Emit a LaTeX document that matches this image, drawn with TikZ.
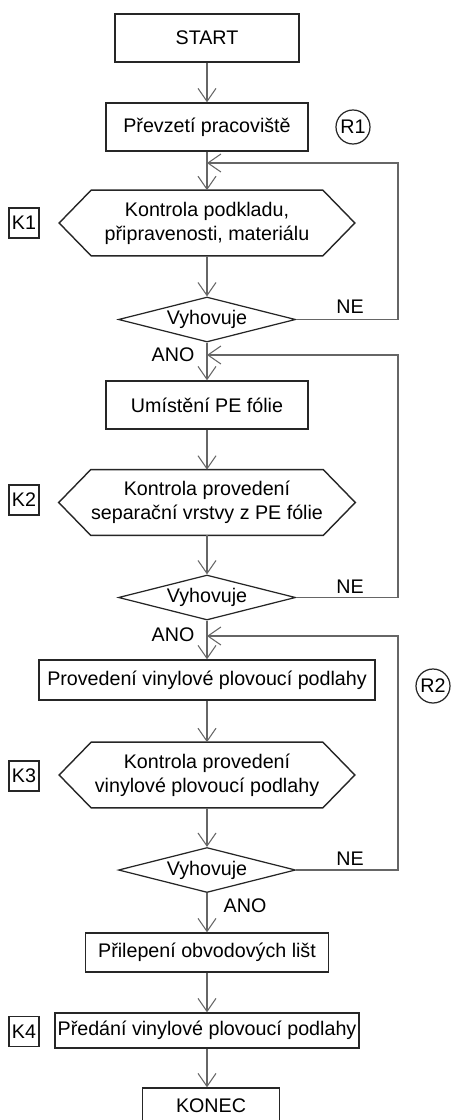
\documentclass[tikz,border=0pt]{standalone}
\usepackage{fontspec}
\setmainfont{Liberation Sans}
\usetikzlibrary{calc,arrows.meta,shapes.geometric}

\begin{document}
\begin{tikzpicture}[x=0.2mm, y=-0.2mm,
  every node/.style={font=\fontsize{11.2}{13.6}\selectfont, inner sep=0},
  box/.style={draw=black!85, line width=0.8pt, minimum height=0.96cm, align=center},
  hexa/.style={minimum width=4.62cm, minimum height=1.3cm, align=center},
  ask/.style={diamond, aspect=3.9, draw=black!85, line width=0.7pt, minimum width=3.54cm, minimum height=0.9cm},
  tag/.style={draw=black!85, line width=0.8pt, minimum size=0.6cm},
  ref/.style={circle, draw=black!85, line width=0.7pt, minimum size=0.68cm},
  line/.style={draw=black!60, line width=0.6pt, -{Straight Barb[length=2.6mm,width=3.6mm]}}]

  \clip (0,0) rectangle (453,1120);
  \fill[white] (0,0) rectangle (453,1120);

  \node[box, minimum width=3.68cm] at (207,38) (start) {START};
  \node[box, minimum width=4.04cm] at (207,127) (prevzeti) {Převzetí pracoviště};
  \node[ref] at (353,127) (r1) {R1};

  \node[hexa] at (207,223) (chk1) {Kontrola podkladu,\\připravenosti, materiálu};
  \node[tag] at (24,223) (k1) {K1};
  \node[ask] at (207,319.5) (ask1) {Vyhovuje};

  \node[box, minimum width=4.04cm] at (207,405) (umisteni) {Umístění PE fólie};
  \node[hexa] at (207,502.5) (chk2) {Kontrola provedení\\separační vrstvy z PE fólie};
  \node[tag] at (24,500) (k2) {K2};
  \node[ask] at (207,597.5) (ask2) {Vyhovuje};

  \node[box, minimum width=6.72cm, minimum height=0.8cm] at (207,680) (provedeni) {Provedení vinylové plovoucí podlahy};
  \node[ref] at (433,686) (r2) {R2};
  \node[hexa] at (207,775) (chk3) {Kontrola provedení\\vinylové plovoucí podlahy};
  \node[tag] at (24,776) (k3) {K3};
  \node[ask] at (207,870) (ask3) {Vyhovuje};

  \node[box, minimum width=4.86cm, minimum height=0.78cm] at (207,952.5) (prilepeni) {Přilepení obvodových lišt};
  \node[box, minimum width=6.08cm, minimum height=0.7cm] at (207,1030.5) (predani) {Předání vinylové plovoucí podlahy};
  \node[tag] at (24,1031.5) (k4) {K4};
  \node[box, minimum width=2.74cm, minimum height=0.7cm] at (211,1105.5) (konec) {KONEC};

  % hexagon outlines
  \foreach \h in {chk1,chk2,chk3}
    \draw[draw=black!85, line width=0.8pt] (\h.north west) -- (\h.north east) -- ($(\h.east)+(32,0)$)
      -- (\h.south east) -- (\h.south west) -- ($(\h.west)-(32,0)$) -- cycle;

  \coordinate (j1) at (207,163);
  \coordinate (c1) at (398,163);
  \coordinate (j2) at (207,355);
  \coordinate (c2) at (398,355);
  \coordinate (j3) at (207,636);
  \coordinate (c3) at (398,636);

  \draw[line] (start) -- (prevzeti);
  \draw[line] (prevzeti) -- (chk1);
  \draw[line] (chk1) -- (ask1);
  \draw[line] (ask1) -- (umisteni);
  \draw[line] (umisteni) -- (chk2);
  \draw[line] (chk2) -- (ask2);
  \draw[line] (ask2) -- (provedeni);
  \draw[line] (provedeni) -- (chk3);
  \draw[line] (chk3) -- (ask3);
  \draw[line] (ask3) -- (prilepeni);
  \draw[line] (prilepeni) -- (predani);
  \draw[line] (predani) -- (predani |- konec.north);

  % return loops
  \draw[line] (ask1.east) -| (c1) -- (j1);
  \draw[line] (ask2.east) -| (c2) -- (j2);
  \draw[line] (ask3.east) -| (c3) -- (j3);

  \node at (350,307) (ne1) {NE};
  \node at (350,587) (ne2) {NE};
  \node at (350,859) (ne3) {NE};
  \node at (173,355) (ano1) {ANO};
  \node at (173,635) (ano2) {ANO};
  \node at (245,906) (ano3) {ANO};

\end{tikzpicture}
\end{document}
